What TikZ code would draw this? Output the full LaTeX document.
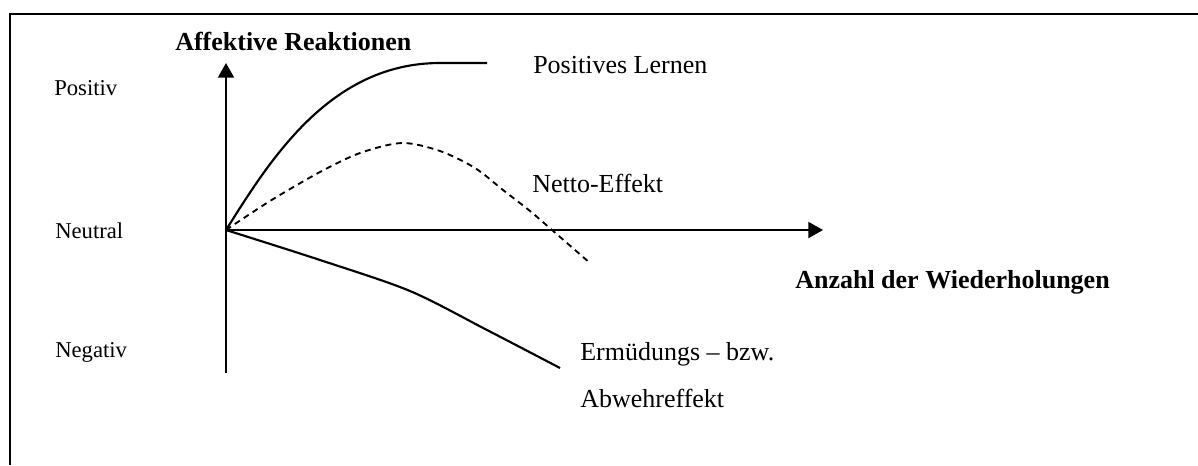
\documentclass[tikz,border=0pt]{standalone}
\usepackage{fontspec}
\setmainfont{Liberation Serif}
\usepackage{tikz}
\usetikzlibrary{arrows.meta}
\usetikzlibrary{positioning}
\tikzset{axis/.style = {line width = 1.5pt, -{Triangle[length = 11pt, width = 12pt]}}}
\tikzset{curve/.style = {line width = 1.6pt}}
\tikzset{netcurve/.style = {line width = 1.4pt, dash pattern = on 4.5pt off 3.5pt}}
\tikzset{lbl/.style = {anchor = base west, inner sep = 0, font = \fontsize{19.5}{22}\selectfont}}
\tikzset{sidelbl/.style = {anchor = base west, inner sep = 0, font = \fontsize{17}{20}\selectfont}}
\tikzset{boldlbl/.style = {lbl, font = \fontsize{19.5}{22}\selectfont\bfseries}}

\begin{document}
\begin{tikzpicture}[x = 0.75pt, y = -0.75pt]
    \useasboundingbox (0, 0) rectangle (1198, 465);

    % frame
    \draw [line width = 1.6pt] (10, 465) -- (10, 14) -- (1198, 14);

    \coordinate (origin) at (226, 230);
    \coordinate (ybot) at (226, 373);
    \coordinate (ytop) at (226, 63);
    \coordinate (xend) at (823, 230);

    \draw [axis] (ybot) -- (ytop);
    \draw [axis] (origin) -- (xend);

    \node [boldlbl] (ylabel) at (175, 50) {Affektive Reaktionen};
    \node [boldlbl] (xlabel) at (795, 288) {Anzahl der Wiederholungen};

    \node [sidelbl] (pos) at (54, 95) {Positiv};
    \node [sidelbl] (neu) at (55, 238) {Neutral};
    \node [sidelbl] (neg) at (55, 357) {Negativ};

    \draw [curve] (origin) .. controls (270, 160) and (330, 63) .. (440, 63) -- (487, 63);
    \draw [netcurve] plot [smooth] coordinates {(226, 230) (270, 201) (320, 172) (360, 153) (402, 143) (440, 151) (475, 168) (503, 190) (530, 211) (552, 230) (590, 263)};
    \draw [curve] plot [smooth] coordinates {(226, 230) (320, 260) (410, 291) (487, 330) (560, 368)};

    \node [lbl] (learn) at (533, 73) {Positives Lernen};
    \node [lbl] (net) at (532, 192) {Netto-Effekt};
    \node [lbl] (tired) at (580, 360) {Ermüdungs – bzw.};
    \node [lbl] (defend) at (580, 407) {Abwehreffekt};
  \end{tikzpicture}
\end{document}
